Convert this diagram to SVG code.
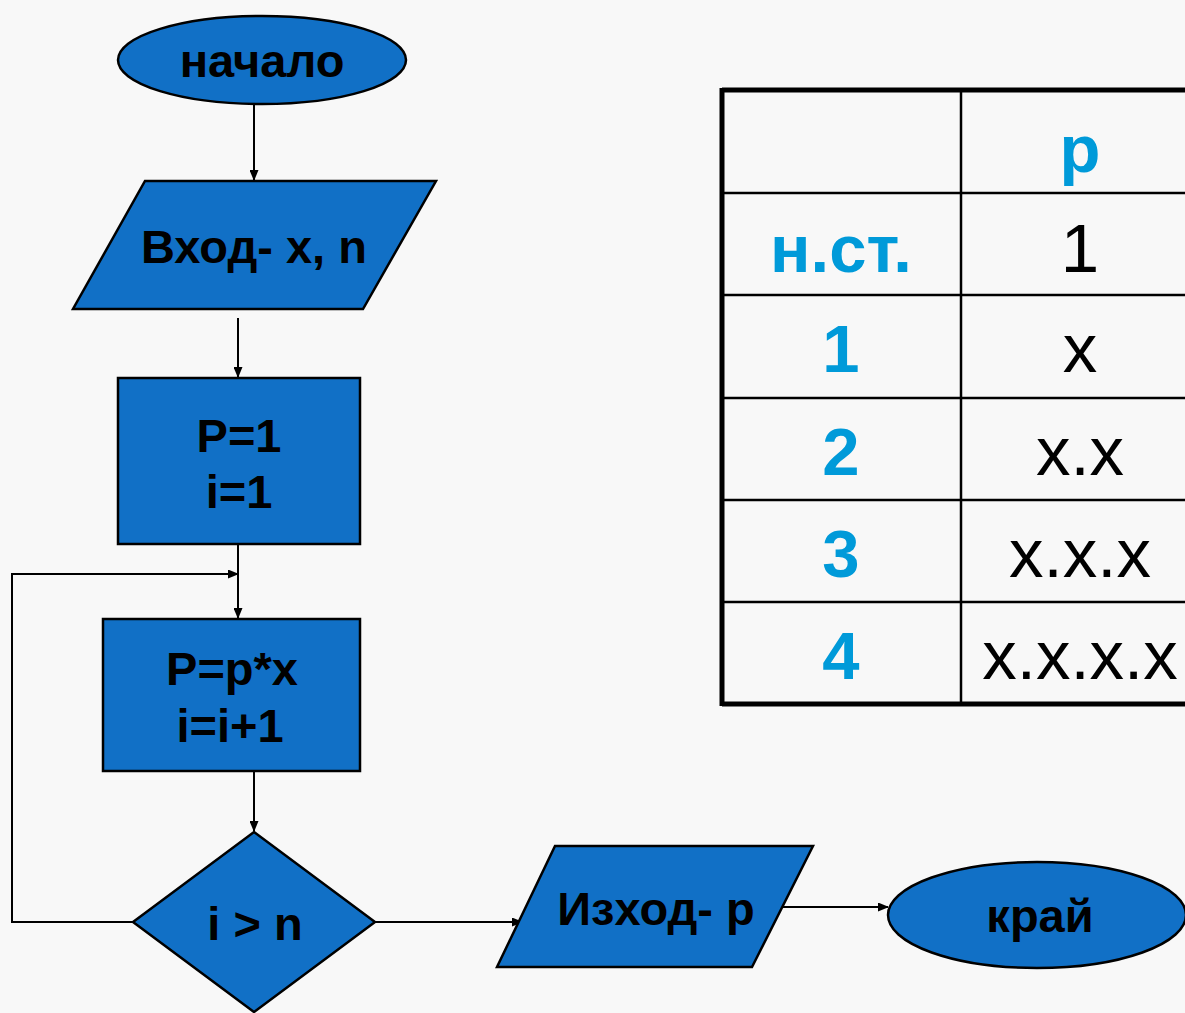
<svg xmlns="http://www.w3.org/2000/svg" width="1185" height="1013" viewBox="0 0 1185 1013">
<style>
.shape{fill:#1170c6;stroke:#000;stroke-width:2.5}
.lbl{font-family:"Liberation Sans",Arial,sans-serif;font-weight:bold;font-size:47px;fill:#000;text-anchor:middle}
.conn{fill:none;stroke:#000;stroke-width:2}
.hd{font-family:"Liberation Sans",Arial,sans-serif;font-weight:bold;font-size:67px;fill:#009ad9;text-anchor:middle}
.val{font-family:"Liberation Sans",Arial,sans-serif;font-size:69px;fill:#000;text-anchor:middle}
.grid{stroke:#000;stroke-width:2.5}
</style>
<defs>
<marker id="arr" markerWidth="11" markerHeight="9" refX="10" refY="4.5" orient="auto" markerUnits="userSpaceOnUse">
<path d="M0,0 L11,4.5 L0,9 z" fill="#000"/>
</marker>
</defs>
<rect width="1185" height="1013" fill="#f8f8f8"/>

<g id="connectors">
<line class="conn" x1="254" y1="105" x2="254" y2="180" marker-end="url(#arr)"/>
<line class="conn" x1="238" y1="318" x2="238" y2="377" marker-end="url(#arr)"/>
<line class="conn" x1="238" y1="544" x2="238" y2="618" marker-end="url(#arr)"/>
<polyline class="conn" points="133,922 12,922 12,574 238,574" marker-end="url(#arr)"/>
<line class="conn" x1="254" y1="771" x2="254" y2="831" marker-end="url(#arr)"/>
<line class="conn" x1="375" y1="922" x2="522" y2="922" marker-end="url(#arr)"/>
<line class="conn" x1="783" y1="907" x2="888" y2="907" marker-end="url(#arr)"/>
</g>

<g id="start">
<ellipse class="shape" cx="262" cy="60" rx="144" ry="44"/>
<text class="lbl" x="262" y="77">начало</text>
</g>

<g id="input">
<polygon class="shape" points="145,181 436,181 363,309 73,309"/>
<text class="lbl" x="254" y="263">Вход- x, n</text>
</g>

<g id="init">
<rect class="shape" x="118" y="378" width="242" height="166"/>
<text class="lbl" x="239" y="452">P=1</text>
<text class="lbl" x="239" y="508">i=1</text>
</g>

<g id="body">
<rect class="shape" x="103" y="619" width="257" height="152"/>
<text class="lbl" x="232" y="685">P=p*x</text>
<text class="lbl" x="230" y="742">i=i+1</text>
</g>

<g id="cond">
<polygon class="shape" points="254,832 375,922 254,1012 133,922"/>
<text class="lbl" x="255" y="940">i &gt; n</text>
</g>

<g id="output">
<polygon class="shape" points="555,846 813,846 752,967 497,967"/>
<text class="lbl" x="656" y="925">Изход- p</text>
</g>

<g id="end">
<ellipse class="shape" cx="1037" cy="915" rx="149" ry="53"/>
<text class="lbl" x="1040" y="932">край</text>
</g>

<g id="table">
<line x1="722" y1="90" x2="1185" y2="90" stroke="#000" stroke-width="5"/>
<line x1="722" y1="704" x2="1185" y2="704" stroke="#000" stroke-width="5"/>
<line x1="722" y1="88" x2="722" y2="706" stroke="#000" stroke-width="5"/>
<line class="grid" x1="961" y1="90" x2="961" y2="704"/>
<line class="grid" x1="722" y1="193" x2="1185" y2="193"/>
<line class="grid" x1="722" y1="295" x2="1185" y2="295"/>
<line class="grid" x1="722" y1="398" x2="1185" y2="398"/>
<line class="grid" x1="722" y1="500" x2="1185" y2="500"/>
<line class="grid" x1="722" y1="602" x2="1185" y2="602"/>
<text class="hd" x="1080" y="172">p</text>
<text class="hd" x="841" y="272">н.ст.</text>
<text class="val" x="1080" y="272">1</text>
<text class="hd" x="841" y="372">1</text>
<text class="val" x="1080" y="372">x</text>
<text class="hd" x="841" y="475">2</text>
<text class="val" x="1080" y="475">x.x</text>
<text class="hd" x="841" y="577">3</text>
<text class="val" x="1080" y="577">x.x.x</text>
<text class="hd" x="841" y="679">4</text>
<text class="val" x="1080" y="679">x.x.x.x</text>
</g>
</svg>
